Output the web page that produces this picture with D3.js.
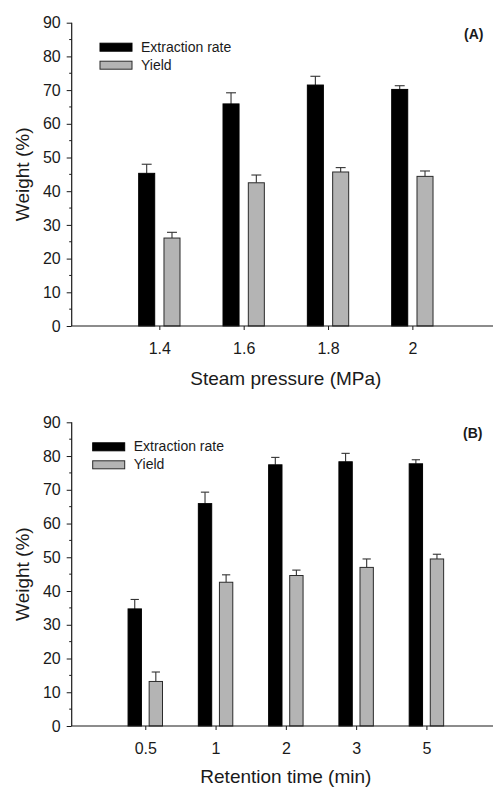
<!DOCTYPE html>
<html>
<head>
<meta charset="utf-8">
<script src="https://cdn.jsdelivr.net/npm/d3@7"></script>
<style>
  html, body { margin: 0; padding: 0; background: #fff; }
  svg { display: block; font-family: "Liberation Sans", Arial, sans-serif; }
</style>
</head>
<body>
<svg id="chart" width="493" height="787"></svg>
<script>
// Panel A: effect of steam pressure
const pressureLabels = ["1.4", "1.6", "1.8", "2"];
const pressureExtraction = [45.3, 65.9, 71.5, 70.2];
const pressureExtractionErr = [2.7, 3.3, 2.6, 1.1];
const pressureYield = [26.1, 42.5, 45.7, 44.4];
const pressureYieldErr = [1.7, 2.3, 1.3, 1.6];

// Panel B: effect of retention time
const timeLabels = ["0.5", "1", "2", "3", "5"];
const timeExtraction = [34.7, 65.9, 77.4, 78.3, 77.7];
const timeExtractionErr = [2.8, 3.4, 2.2, 2.5, 1.2];
const timeYield = [13.2, 42.6, 44.6, 47.0, 49.5];
const timeYieldErr = [2.8, 2.2, 1.6, 2.5, 1.4];

const yTicks = [0, 10, 20, 30, 40, 50, 60, 70, 80, 90];
const seriesNames = ["Extraction rate", "Yield"];

const svg = d3.select("#chart");
const ink = "#1a1a1a";

function drawPanel(cfg) {
  const g = svg.append("g");
  const x = d3.scalePoint().domain(cfg.cats).range([75, 496.7]).padding(1);
  const y = d3.scaleLinear().domain([0, 90]).range([cfg.yBottom, cfg.yTop]);
  const step = x.step();
  const off = 0.15 * step, bw = 0.19 * step, cap = 0.62 * bw;
  const axisX = 71.7;

  const series = [
    { vals: cfg.ext, errs: cfg.extErr, fill: "#000", stroke: "#000", dx: -off },
    { vals: cfg.yld, errs: cfg.yldErr, fill: "#b4b4b4", stroke: "#2b2b2b", dx: off }
  ];

  series.forEach(s => {
    const rows = cfg.cats.map((c, i) => ({ c, v: s.vals[i], e: s.errs[i] }));
    // error bars (upper only)
    const eb = g.append("g").attr("stroke", "#333").attr("stroke-width", 1.1);
    eb.selectAll("line.v").data(rows).join("line")
      .attr("x1", d => x(d.c) + s.dx).attr("x2", d => x(d.c) + s.dx)
      .attr("y1", d => y(d.v)).attr("y2", d => y(d.v + d.e));
    eb.selectAll("line.c").data(rows).join("line")
      .attr("x1", d => x(d.c) + s.dx - cap / 2).attr("x2", d => x(d.c) + s.dx + cap / 2)
      .attr("y1", d => y(d.v + d.e)).attr("y2", d => y(d.v + d.e));
    // bars
    g.append("g").selectAll("rect").data(rows).join("rect")
      .attr("x", d => x(d.c) + s.dx - bw / 2)
      .attr("width", bw)
      .attr("y", d => y(d.v))
      .attr("height", d => y(0) - y(d.v))
      .attr("fill", s.fill)
      .attr("stroke", s.stroke)
      .attr("stroke-width", 1);
  });

  // y axis with minor ticks
  const yAxis = g.append("g").attr("transform", `translate(${axisX},0)`)
    .call(d3.axisLeft(y).tickValues(yTicks).tickSize(5).tickPadding(6).tickFormat(d3.format("d")));
  yAxis.append("g").selectAll("line").data(d3.range(5, 90, 10)).join("line")
    .attr("x1", -2.5).attr("x2", 0).attr("y1", d => y(d)).attr("y2", d => y(d))
    .attr("stroke", ink);
  yAxis.select(".domain").attr("d", `M0,${y(90)}V${y(0)}`);

  // x axis
  const xAxis = g.append("g").attr("transform", `translate(0,${y(0)})`)
    .call(d3.axisBottom(x).tickSize(4).tickPadding(13));
  xAxis.select(".domain").attr("d", `M${axisX},0H493`);

  [yAxis, xAxis].forEach(a => {
    a.selectAll(".domain").attr("stroke", ink).attr("stroke-width", 1.2);
    a.selectAll(".tick line").attr("stroke", ink);
    a.selectAll("text").attr("font-size", 16).attr("fill", ink)
      .attr("font-family", "Liberation Sans, Arial, sans-serif");
  });

  // axis titles
  g.append("text")
    .attr("x", (x.range()[0] + x.range()[1]) / 2)
    .attr("y", cfg.yBottom + cfg.titleGap)
    .attr("text-anchor", "middle").attr("font-size", 19).attr("fill", ink)
    .text(cfg.xTitle);
  g.append("text")
    .attr("transform", `translate(29,${(cfg.yTop + cfg.yBottom) / 2}) rotate(-90)`)
    .attr("text-anchor", "middle").attr("font-size", 19).attr("fill", ink)
    .text("Weight (%)");

  // panel tag
  g.append("text")
    .attr("x", cfg.tagX).attr("y", cfg.yTop + 16)
    .attr("text-anchor", "end").attr("font-size", 14).attr("font-weight", "bold").attr("fill", ink)
    .text(cfg.tag);

  // legend
  const lg = g.append("g").attr("transform", `translate(${cfg.legX},${cfg.yTop + 20.5})`);
  seriesNames.forEach((name, i) => {
    lg.append("rect")
      .attr("x", 0).attr("y", i * 18).attr("width", 32).attr("height", 8)
      .attr("fill", series[i].fill).attr("stroke", series[i].stroke).attr("stroke-width", 1);
    lg.append("text")
      .attr("x", 41).attr("y", i * 18 + 8.5)
      .attr("font-size", 14).attr("fill", ink)
      .text(name);
  });
}

drawPanel({
  cats: pressureLabels, ext: pressureExtraction, extErr: pressureExtractionErr,
  yld: pressureYield, yldErr: pressureYieldErr,
  yTop: 22.7, yBottom: 326, xTitle: "Steam pressure (MPa)", titleGap: 59,
  tag: "(A)", tagX: 483.5, legX: 100
});

drawPanel({
  cats: timeLabels, ext: timeExtraction, extErr: timeExtractionErr,
  yld: timeYield, yldErr: timeYieldErr,
  yTop: 422.3, yBottom: 726, xTitle: "Retention time (min)", titleGap: 56.5,
  tag: "(B)", tagX: 482.5, legX: 92.7
});
</script>
</body>
</html>
